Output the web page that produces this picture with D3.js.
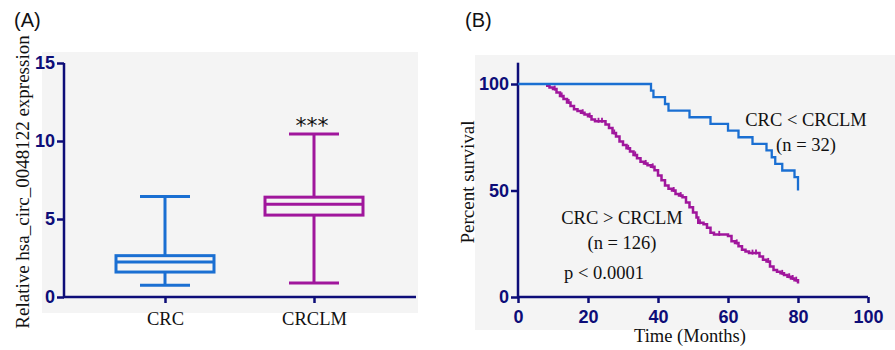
<!DOCTYPE html>
<html>
<head>
<meta charset="utf-8">
<script src="https://cdn.jsdelivr.net/npm/d3@7/dist/d3.min.js"></script>
<style>
  body { margin: 0; background: #fff; }
  svg { display: block; }
  .tick-num { font-family: "Liberation Sans", Arial, sans-serif; font-weight: bold; font-size: 18px; fill: #0d0d78; }
  .serif { font-family: "Liberation Serif", "Times New Roman", serif; fill: #111; }
</style>
</head>
<body>
<svg id="svg" width="895" height="350"></svg>
<script>
// panel A - box plot
const groups = ['CRC', 'CRCLM'];
const whiskerLow = [0.75, 0.9];
const q1 = [1.6, 5.25];
const median = [2.25, 5.95];
const q3 = [2.65, 6.4];
const whiskerHigh = [6.45, 10.45];
const yTicksA = [0, 5, 10, 15];

// panel B - survival curves
const lowTimes = [0, 38, 38.7, 42, 43, 49, 55, 60, 63, 67, 71, 72.5, 73.5, 75.5, 79, 80];
const lowSurvival = [100, 96.9, 93.8, 90.6, 87.5, 84.4, 81.3, 78.1, 75, 71.9, 68.8, 65.6, 62.5, 59.4, 56.3, 50];
const highTimes = [8, 9, 10, 11, 12, 13, 14, 15, 16, 17, 18, 19, 20, 21, 22, 25, 26, 27, 28, 29, 30, 31, 32, 33,
  34, 35, 36, 37, 38, 39, 40, 41, 42, 43, 44, 45, 46, 47, 48, 49, 50, 51, 51.5, 53, 54, 55, 56, 60, 61, 62, 63,
  64, 65, 66, 69, 70, 71, 72, 73, 74, 75, 76, 77, 78, 79, 80];
const highSurvival = [99.2, 98.4, 97.6, 96.0, 94.4, 92.9, 91.3, 89.7, 88.1, 87.3, 86.5, 85.7, 84.9, 83.3, 82.5,
  81.0, 79.4, 77.0, 75.4, 73.0, 71.4, 69.8, 68.3, 66.7, 65.1, 63.5, 62.7, 61.9, 61.1, 59.5, 57.1, 54.8, 52.4,
  50.8, 50.0, 48.4, 47.6, 46.8, 44.4, 42.1, 39.7, 37.3, 34.9, 34.1, 32.5, 30.2, 29.4, 28.6, 26.2, 25.4, 23.8,
  22.2, 21.4, 20.6, 19.0, 17.5, 16.7, 14.3, 12.7, 11.9, 11.1, 10.3, 9.5, 8.7, 7.9, 6.3];
const highCensored = [10.5, 12.5, 14.5, 18.5, 20.5, 23, 24, 27.5, 31.5, 33.5, 36.5, 38.5, 44.5, 46.5, 52,
  57.5, 62.5, 67, 68, 71.5, 75.5, 77.5, 78.5, 79.5];
const xTicksB = [0, 20, 40, 60, 80, 100];
const yTicksB = [0, 50, 100];

const axisColor = '#0d0d78';
const blue = '#1a6fd2';
const magenta = '#a0169c';
const svg = d3.select('#svg');

function styleAxis(g) {
  g.select('.domain').remove();
  g.selectAll('.tick line').attr('stroke', axisColor).attr('stroke-width', 2.5);
  g.selectAll('.tick text').attr('class', 'tick-num').attr('fill', null);
}

function drawPanelA() {
  svg.append('rect').attr('x', 42).attr('y', 52).attr('width', 376).attr('height', 261).attr('fill', '#f4f4f4');

  const y = d3.scaleLinear().domain([0, 15]).range([297, 63]);
  const x = d3.scalePoint().domain(groups).range([165, 314]);

  svg.append('g')
    .attr('transform', 'translate(64,0)')
    .call(d3.axisLeft(y).tickValues(yTicksA).tickSize(7).tickPadding(2))
    .call(styleAxis);

  const xg = svg.append('g')
    .attr('transform', 'translate(0,297)')
    .call(d3.axisBottom(x).tickSize(6).tickPadding(9));
  styleAxis(xg);
  xg.selectAll('.tick text').attr('class', 'serif').attr('font-size', 18.5).attr('fill', '#111').attr('dy', '0.71em');

  svg.append('line').attr('x1', 64).attr('x2', 64).attr('y1', y(15)).attr('y2', y(0))
    .attr('stroke', axisColor).attr('stroke-width', 2.5);
  svg.append('line').attr('x1', 63).attr('x2', 416).attr('y1', y(0)).attr('y2', y(0))
    .attr('stroke', axisColor).attr('stroke-width', 2.5);

  const boxHalf = 49;
  const capHalf = 25;
  const colors = [blue, magenta];
  groups.forEach((grp, i) => {
    const cx = x(grp);
    const g = svg.append('g').attr('stroke', colors[i]).attr('stroke-width', 3).attr('fill', 'none');
    g.append('line').attr('x1', cx).attr('x2', cx).attr('y1', y(whiskerHigh[i])).attr('y2', y(q3[i]));
    g.append('line').attr('x1', cx).attr('x2', cx).attr('y1', y(q1[i])).attr('y2', y(whiskerLow[i]));
    g.append('line').attr('x1', cx - capHalf).attr('x2', cx + capHalf).attr('y1', y(whiskerHigh[i])).attr('y2', y(whiskerHigh[i]));
    g.append('line').attr('x1', cx - capHalf).attr('x2', cx + capHalf).attr('y1', y(whiskerLow[i])).attr('y2', y(whiskerLow[i]));
    g.append('rect').attr('x', cx - boxHalf).attr('y', y(q3[i])).attr('width', boxHalf * 2).attr('height', y(q1[i]) - y(q3[i]));
    g.append('line').attr('x1', cx - boxHalf).attr('x2', cx + boxHalf).attr('y1', y(median[i])).attr('y2', y(median[i]));
  });

  svg.append('text').attr('x', x('CRCLM') - 2).attr('y', 133).attr('text-anchor', 'middle')
    .attr('font-family', '"DejaVu Sans", sans-serif').attr('font-size', 22).attr('fill', '#111')
    .text('***');

  svg.append('text').attr('class', 'serif').attr('font-size', 19).attr('text-anchor', 'middle')
    .attr('transform', 'translate(29,182) rotate(-90)')
    .text('Relative hsa_circ_0048122 expression');

  svg.append('text').attr('x', 14).attr('y', 27)
    .attr('font-family', '"Liberation Sans", Arial, sans-serif').attr('font-size', 20).attr('fill', '#111')
    .text('(A)');
}

function drawPanelB() {
  svg.append('rect').attr('x', 475).attr('y', 55).attr('width', 420).attr('height', 275).attr('fill', '#f4f4f4');

  const x = d3.scaleLinear().domain([0, 100]).range([518, 868]);
  const y = d3.scaleLinear().domain([0, 100]).range([297, 84]);

  svg.append('g')
    .attr('transform', 'translate(518,0)')
    .call(d3.axisLeft(y).tickValues(yTicksB).tickSize(7).tickPadding(2))
    .call(styleAxis);
  svg.append('g')
    .attr('transform', 'translate(0,297)')
    .call(d3.axisBottom(x).tickValues(xTicksB).tickSize(6).tickPadding(7))
    .call(styleAxis);

  svg.append('line').attr('x1', 518).attr('x2', 518).attr('y1', y(110)).attr('y2', y(0))
    .attr('stroke', axisColor).attr('stroke-width', 2.5);
  svg.append('line').attr('x1', 517).attr('x2', x(100)).attr('y1', y(0)).attr('y2', y(0))
    .attr('stroke', axisColor).attr('stroke-width', 2.5);

  const line = d3.line().curve(d3.curveStepAfter).x(d => x(d[0])).y(d => y(d[1]));

  svg.append('path')
    .datum(highTimes.map((t, i) => [t, highSurvival[i]]))
    .attr('d', line).attr('fill', 'none').attr('stroke', magenta).attr('stroke-width', 2.5);

  const stepValue = t => highSurvival[d3.bisectRight(highTimes, t) - 1];
  svg.append('g').selectAll('line')
    .data(highCensored)
    .join('line')
    .attr('x1', d => x(d)).attr('x2', d => x(d))
    .attr('y1', d => y(stepValue(d)) - 3.5).attr('y2', d => y(stepValue(d)) + 1.5)
    .attr('stroke', magenta).attr('stroke-width', 1.8);

  svg.append('path')
    .datum(lowTimes.map((t, i) => [t, lowSurvival[i]]))
    .attr('d', line).attr('fill', 'none').attr('stroke', blue).attr('stroke-width', 2.3);

  const label = (tx, ty, s) => svg.append('text').attr('class', 'serif').attr('font-size', 18.5)
    .attr('text-anchor', 'middle').attr('x', tx).attr('y', ty).text(s);
  label(806, 126, 'CRC < CRCLM');
  label(806, 151, '(n = 32)');
  label(622, 224, 'CRC > CRCLM');
  label(622, 249, '(n = 126)');
  label(604, 279, 'p < 0.0001');

  svg.append('text').attr('class', 'serif').attr('font-size', 19).attr('text-anchor', 'middle')
    .attr('transform', 'translate(474,182) rotate(-90)')
    .text('Percent survival');
  svg.append('text').attr('class', 'serif').attr('font-size', 18.5).attr('text-anchor', 'middle')
    .attr('x', 690).attr('y', 342)
    .text('Time (Months)');

  svg.append('text').attr('x', 465).attr('y', 27)
    .attr('font-family', '"Liberation Sans", Arial, sans-serif').attr('font-size', 20).attr('fill', '#111')
    .text('(B)');
}

drawPanelA();
drawPanelB();
</script>
</body>
</html>
